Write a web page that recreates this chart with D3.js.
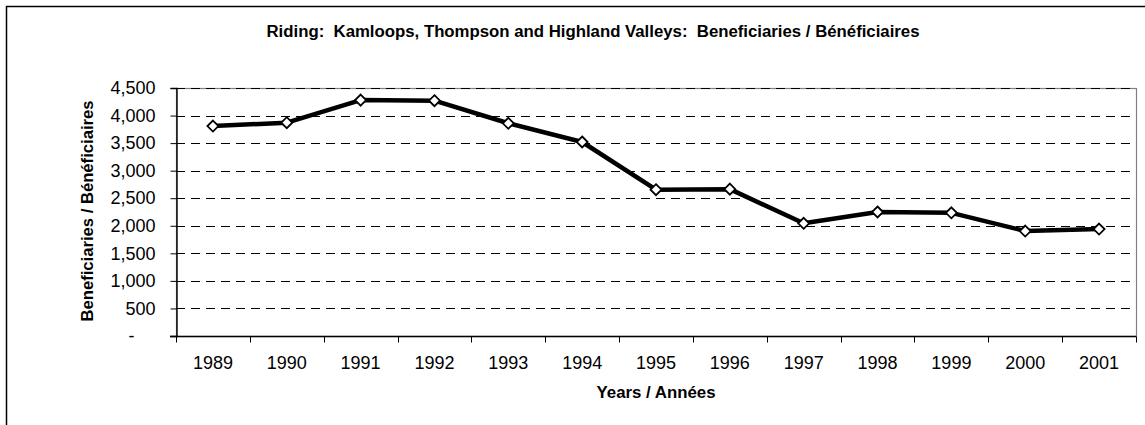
<!DOCTYPE html>
<html><head><meta charset="utf-8">
<script src="https://cdn.jsdelivr.net/npm/d3@7"></script>
<style>body{margin:0;background:#fff}svg{display:block}text.pre{white-space:pre}</style>
</head><body>
<script>
const years = ["1989","1990","1991","1992","1993","1994","1995","1996","1997","1998","1999","2000","2001"];
const beneficiaries = [3810, 3870, 4280, 4270, 3860, 3520, 2655, 2665, 2045, 2250, 2235, 1905, 1940];
const yTicks = [0, 500, 1000, 1500, 2000, 2500, 3000, 3500, 4000, 4500];
const title = "Riding:  Kamloops, Thompson and Highland Valleys:  Beneficiaries / Bénéficiaires";
const xTitle = "Years / Années";
const yTitle = "Beneficiaries / Bénéficiaires";

const W = 1145, H = 425;
const m = {left: 176, right: 1136, top: 88, bottom: 336};
const svg = d3.select("body").append("svg").attr("width", W).attr("height", H);
const bold = "Arial,'Liberation Sans',sans-serif";
const reg = "Arial,'Liberation Sans',sans-serif";

svg.append("rect").attr("x", 6.5).attr("y", 6.5).attr("width", W + 10).attr("height", H + 10)
  .attr("fill", "#fff").attr("stroke", "#000").attr("stroke-width", 1.5);

const x = d3.scaleBand().domain(years).range([m.left, m.right]);
const y = d3.scaleLinear().domain([0, 4500]).range([m.bottom, m.top]);

// plot border (gray)
svg.append("rect").attr("x", m.left + 0.5).attr("y", m.top + 0.5).attr("width", m.right - m.left).attr("height", m.bottom - m.top)
  .attr("fill", "none").attr("stroke", "#808080").attr("stroke-width", 1.2);

// gridlines
svg.append("g").selectAll("line").data(yTicks.filter(d => d > 0)).join("line")
  .attr("x1", m.left).attr("x2", m.right)
  .attr("y1", d => Math.round(y(d)) + 0.5).attr("y2", d => Math.round(y(d)) + 0.5)
  .attr("stroke", "#000").attr("stroke-width", 1).attr("stroke-dasharray", "9,6");

// y axis
const yAxis = d3.axisLeft(y).tickValues(yTicks).tickSize(6).tickPadding(15)
  .tickFormat(d => d === 0 ? "-" : d3.format(",")(d));
const gy = svg.append("g").attr("transform", `translate(${m.left + 0.5},0)`).call(yAxis);
gy.select(".domain").attr("stroke", "#000").attr("stroke-width", 1.4);
gy.selectAll(".tick line").attr("stroke", "#000");
gy.selectAll(".tick text").attr("font-family", reg).attr("font-size", 18).attr("fill", "#000")
  .attr("dx", d => d === 0 ? -21 : 0);

// x axis: ticks at band boundaries
const gx = svg.append("g").attr("transform", `translate(0,${m.bottom + 0.5})`);
gx.append("line").attr("x1", m.left - 6).attr("x2", m.right).attr("stroke", "#000").attr("stroke-width", 1.5);
const bounds = years.map(d => x(d)).concat([m.right]);
gx.selectAll("line.tk").data(bounds).join("line").attr("class", "tk")
  .attr("x1", d => Math.round(d) + 0.5).attr("x2", d => Math.round(d) + 0.5)
  .attr("y1", 0).attr("y2", 6).attr("stroke", "#000");
gx.selectAll("text").data(years).join("text")
  .attr("x", d => x(d) + x.bandwidth() / 2).attr("y", 32)
  .attr("text-anchor", "middle").attr("font-family", reg).attr("font-size", 18).attr("fill", "#000")
  .text(d => d);

// line
const line = d3.line().x((d, i) => x(years[i]) + x.bandwidth() / 2).y(d => y(d));
svg.append("path").datum(beneficiaries).attr("d", line)
  .attr("fill", "none").attr("stroke", "#000").attr("stroke-width", 4.5).attr("stroke-linejoin", "round");

// diamond markers
svg.append("g").selectAll("path").data(beneficiaries).join("path")
  .attr("transform", (d, i) => `translate(${x(years[i]) + x.bandwidth() / 2},${y(d)})`)
  .attr("d", "M0,-5.5L5.5,0L0,5.5L-5.5,0Z")
  .attr("fill", "#fff").attr("stroke", "#000").attr("stroke-width", 1.8);

// titles
svg.append("text").attr("class", "pre").attr("x", 593).attr("y", 37).attr("text-anchor", "middle")
  .attr("font-family", bold).attr("font-weight", "bold").attr("font-size", 16)
  .attr("textLength", 653).attr("lengthAdjust", "spacingAndGlyphs").text(title);
svg.append("text").attr("x", 656).attr("y", 398).attr("text-anchor", "middle")
  .attr("font-family", bold).attr("font-weight", "bold").attr("font-size", 16)
  .attr("textLength", 119).attr("lengthAdjust", "spacingAndGlyphs").text(xTitle);
svg.append("text").attr("transform", "translate(93,211) rotate(-90)").attr("text-anchor", "middle")
  .attr("font-family", bold).attr("font-weight", "bold").attr("font-size", 16)
  .attr("textLength", 221).attr("lengthAdjust", "spacingAndGlyphs").text(yTitle);
</script>
</body></html>
